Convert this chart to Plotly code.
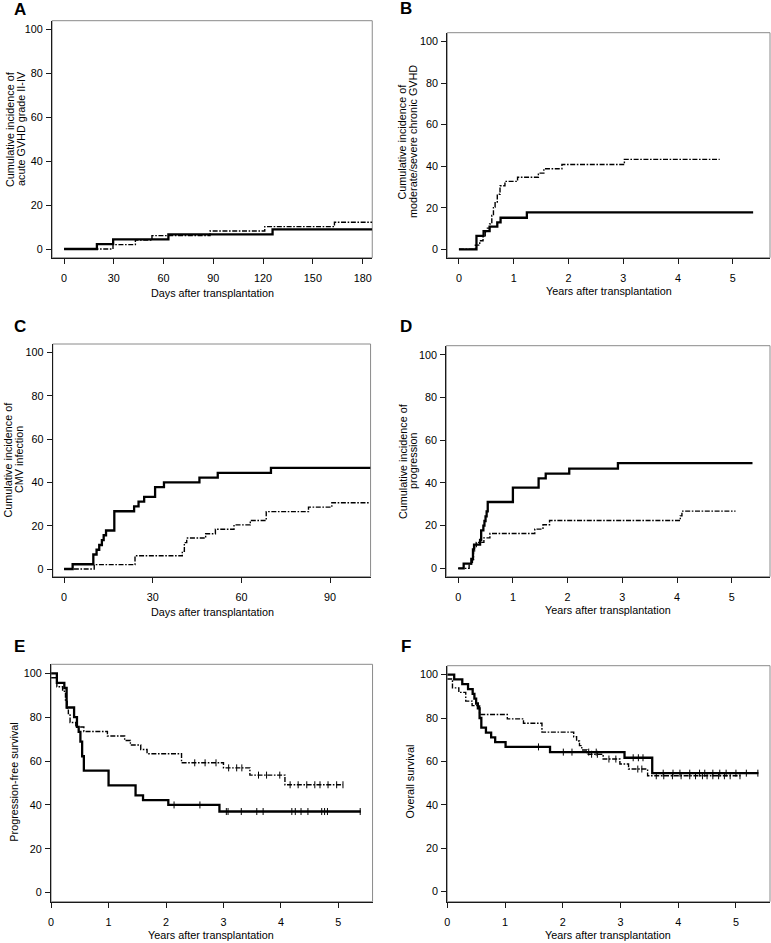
import plotly.graph_objects as go

W, H = 771, 943
FONT = "Liberation Sans, Arial, Helvetica, sans-serif"

# ---------------- DATA ----------------
# Panel A: acute GVHD II-IV (days)
A_solid_t = [0, 19.8, 29.6, 62.9, 125.7]
A_solid_v = [0, 2.2, 4.4, 6.7, 8.9]
A_solid_end = 185.8
A_dash_t = [0, 29.5, 43, 53, 88, 121, 163]
A_dash_v = [0, 2.0, 4.1, 6.1, 8.2, 10.2, 12.2]
A_dash_end = 185.8

# Panel B: moderate/severe chronic GVHD (years)
B_solid_t = [0, 0.32, 0.45, 0.56, 0.70, 0.76, 1.24]
B_solid_v = [0, 6.5, 8.7, 10.9, 13.0, 15.2, 17.8]
B_solid_end = 5.37
B_dash_t = [0, 0.30, 0.38, 0.44, 0.48, 0.52, 0.56, 0.60, 0.63, 0.66, 0.70, 0.75, 0.84, 1.07, 1.45, 1.55, 1.88, 3.02]
B_dash_v = [0, 2.0, 4.1, 6.1, 8.2, 10.2, 12.2, 16.3, 20.4, 22.4, 26.5, 30.6, 32.7, 34.7, 36.7, 38.8, 40.8, 43.3]
B_dash_end = 4.76

# Panel C: CMV infection (days)
C_solid_t = [0, 2.9, 9.9, 11.0, 11.9, 12.8, 13.4, 14.2, 17.0, 23.7, 25.2, 27.1, 30.8, 33.8, 45.8, 52.0, 70.0]
C_solid_v = [0, 2.2, 6.7, 8.9, 11.1, 13.3, 15.6, 17.8, 26.7, 28.9, 31.1, 33.3, 37.8, 40.0, 42.2, 44.4, 46.7]
C_solid_end = 103.7
C_dash_t = [0, 10.2, 24.0, 40.0, 40.7, 41.5, 47.9, 51.2, 57.5, 63.0, 68.4, 82.7, 90.6]
C_dash_v = [0, 2.0, 6.1, 8.2, 12.2, 14.3, 16.3, 18.4, 20.4, 22.4, 26.5, 28.6, 30.6]
C_dash_end = 103.5

# Panel D: progression (years)
D_solid_t = [0, 0.10, 0.24, 0.27, 0.29, 0.40, 0.42, 0.46, 0.48, 0.50, 0.52, 0.54, 1.00, 1.47, 1.60, 2.03, 2.92]
D_solid_v = [0, 2.2, 4.4, 8.9, 11.1, 13.3, 17.8, 20.0, 22.2, 24.4, 26.7, 31.1, 37.8, 42.2, 44.4, 46.7, 49.3]
D_solid_end = 5.38
D_dash_t = [0, 0.20, 0.26, 0.28, 0.30, 0.33, 0.47, 0.58, 1.40, 1.55, 1.67, 4.06, 4.09]
D_dash_v = [0, 2.0, 4.1, 8.2, 10.2, 12.2, 14.3, 16.3, 18.4, 20.4, 22.4, 24.6, 26.8]
D_dash_end = 5.07

# Panel E: progression-free survival (years)
E_solid_t = [0, 0.10, 0.23, 0.27, 0.40, 0.45, 0.48, 0.51, 0.54, 0.57, 1.00, 1.47, 1.60, 2.04, 2.93]
E_solid_v = [100, 95.6, 93.3, 84.4, 80.0, 75.6, 73.3, 68.9, 62.2, 55.6, 48.9, 44.4, 42.2, 40.0, 37.0]
E_solid_end = 5.39
E_solid_cens = [2.14, 2.59, 3.05, 3.08, 3.31, 3.58, 3.69, 4.19, 4.25, 4.35, 4.47, 4.71, 4.76, 4.81, 5.38]
E_dash_t = [0, 0.10, 0.20, 0.25, 0.28, 0.30, 0.33, 0.43, 0.57, 0.98, 1.28, 1.38, 1.56, 1.67, 2.27, 3.00, 3.46, 4.07]
E_dash_v = [98.0, 93.9, 91.8, 87.8, 83.7, 81.6, 77.6, 75.5, 73.5, 71.4, 69.4, 67.3, 65.3, 63.3, 59.2, 56.9, 53.6, 49.2]
E_dash_end = 5.08
E_dash_cens = [2.5, 2.68, 2.87, 3.09, 3.23, 3.32, 3.61, 3.75, 3.98, 4.16, 4.30, 4.45, 4.59, 4.68, 4.82, 4.97, 5.08]

# Panel F: overall survival (years)
F_solid_t = [0, 0.12, 0.26, 0.36, 0.44, 0.47, 0.50, 0.53, 0.56, 0.59, 0.67, 0.76, 0.83, 1.01, 1.78, 3.07, 3.55]
F_solid_v = [100, 97.8, 95.6, 93.3, 91.1, 88.9, 86.7, 84.4, 80.0, 75.6, 73.3, 71.1, 68.9, 66.7, 64.3, 61.7, 54.6]
F_solid_end = 5.39
F_solid_cens = [1.58, 2.01, 2.16, 2.45, 2.58, 3.22, 3.31, 3.39, 3.74, 3.91, 4.03, 4.20, 4.37, 4.46, 4.60, 4.72, 4.83, 5.00, 5.18, 5.38]
F_dash_t = [0, 0.09, 0.20, 0.32, 0.43, 0.56, 1.04, 1.32, 1.64, 2.19, 2.24, 2.29, 2.33, 2.42, 2.70, 2.99, 3.14, 3.47]
F_dash_v = [98.0, 93.9, 91.8, 87.8, 85.7, 81.6, 79.6, 77.6, 73.5, 71.4, 69.4, 67.3, 65.3, 63.3, 61.1, 58.8, 56.5, 53.4]
F_dash_end = 5.08
F_dash_cens = [2.5, 2.6, 2.8, 2.92, 3.3, 3.37, 3.62, 3.75, 3.9, 4.05, 4.2, 4.3, 4.42, 4.5, 4.6, 4.7, 4.8, 4.9, 5.07]

days_ticks_A = [0, 30, 60, 90, 120, 150, 180]
days_ticks_C = [0, 30, 60, 90]
year_ticks = [0, 1, 2, 3, 4, 5]
y_ticks = [0, 20, 40, 60, 80, 100]

# ---------------- LAYOUT (pixel boxes) ----------------
panels = {
    "A": dict(box=(49.3, 370.7, 20.7, 257.7), xr=[-7.2, 185.8], yr=[-3.96, 103.9], xt=days_ticks_A,
              xtitle="Days after transplantation", xtpos=(210, 292.7),
              ytitle=["Cumulative incidence of", "acute GVHD grade II-IV"], ytx=[6.5, 17.5], ytyc=128.5,
              letter=(17.5, 9.2)),
    "B": dict(box=(446, 770, 32.7, 257.7), xr=[-0.213, 5.678], yr=[-4.05, 104.3], xt=year_ticks,
              xtitle="Years after transplantation", xtpos=(608.5, 291),
              ytitle=["Cumulative incidence of", "moderate/severe chronic GVHD"], ytx=[401, 411.5], ytyc=141,
              letter=(405, 8.5)),
    "C": dict(box=(50, 369, 344, 576.7), xr=[-3.81, 103.7], yr=[-3.56, 104.0], xt=days_ticks_C,
              xtitle="Days after transplantation", xtpos=(210, 611.7),
              ytitle=["Cumulative incidence of", "CMV infection"], ytx=[5.5, 16], ytyc=459,
              letter=(17, 326)),
    "D": dict(box=(445, 770, 345.7, 576.7), xr=[-0.218, 5.70], yr=[-3.9, 104.3], xt=year_ticks,
              xtitle="Years after transplantation", xtpos=(607.7, 610),
              ytitle=["Cumulative incidence of", "progression"], ytx=[401, 411], ytyc=460.5,
              letter=(405, 327)),
    "E": dict(box=(48.3, 371, 664.3, 901.7), xr=[0, 5.595], yr=[-4.1, 104.1], xt=year_ticks,
              xtitle="Years after transplantation", xtpos=(208.8, 935),
              ytitle=["Progression-free survival"], ytx=[11], ytyc=781.7,
              letter=(17, 646)),
    "F": dict(box=(446, 770, 665.7, 901.7), xr=[0, 5.59], yr=[-4.6, 104.1], xt=year_ticks,
              xtitle="Years after transplantation", xtpos=(607, 935),
              ytitle=["Overall survival"], ytx=[409], ytyc=781,
              letter=(405, 646)),
}

series = {
    "A": [(A_solid_t, A_solid_v, A_solid_end, None), (A_dash_t, A_dash_v, A_dash_end, None)],
    "B": [(B_solid_t, B_solid_v, B_solid_end, None), (B_dash_t, B_dash_v, B_dash_end, None)],
    "C": [(C_solid_t, C_solid_v, C_solid_end, None), (C_dash_t, C_dash_v, C_dash_end, None)],
    "D": [(D_solid_t, D_solid_v, D_solid_end, None), (D_dash_t, D_dash_v, D_dash_end, None)],
    "E": [(E_solid_t, E_solid_v, E_solid_end, E_solid_cens), (E_dash_t, E_dash_v, E_dash_end, E_dash_cens)],
    "F": [(F_solid_t, F_solid_v, F_solid_end, F_solid_cens), (F_dash_t, F_dash_v, F_dash_end, F_dash_cens)],
}


def step_at(t, v, x):
    val = v[0]
    for ti, vi in zip(t, v):
        if ti <= x:
            val = vi
    return val


fig = go.Figure()
annotations = []
shapes = []

for i, key in enumerate(["A", "B", "C", "D", "E", "F"]):
    p = panels[key]
    idx = "" if i == 0 else str(i + 1)
    xa, ya = "x" + idx, "y" + idx
    l, r, t_, b = p["box"]
    xdom = [l / W, r / W]
    ydom = [1 - b / H, 1 - t_ / H]
    common = dict(showgrid=False, zeroline=False, showline=True, linecolor="#1a1a1a", linewidth=1.2,
                  ticks="outside", ticklen=5, tickwidth=1, tickcolor="#1a1a1a",
                  tickfont=dict(family=FONT, size=10.8, color="black"))
    fig.update_layout(**{
        "xaxis" + idx: dict(domain=xdom, range=p["xr"], tickmode="array", tickvals=p["xt"],
                            anchor=ya, ticklabelstandoff=5, **common),
        "yaxis" + idx: dict(domain=ydom, range=p["yr"], tickmode="array", tickvals=y_ticks,
                            anchor=xa, ticklabelstandoff=1, **common),
    })
    shapes.append(dict(type="rect", xref=xa + " domain", yref=ya + " domain", x0=0, x1=1, y0=0, y1=1,
                       line=dict(color="#8a8a8a", width=1), layer="below"))

    for j, (tt, vv, end, cens) in enumerate(series[key]):
        xs = list(tt) + [end]
        ys = list(vv) + [vv[-1]]
        if j == 0:
            line = dict(color="black", width=2.3, shape="hv")
        else:
            line = dict(color="black", width=1.4, shape="hv", dash="5px,1.6px,1.6px,1.6px")
        fig.add_trace(go.Scatter(x=xs, y=ys, mode="lines", line=line, xaxis=xa, yaxis=ya,
                                 showlegend=False, hoverinfo="skip"))
        if cens:
            fig.add_trace(go.Scatter(x=cens, y=[step_at(tt, vv, c) for c in cens], mode="markers",
                                     marker=dict(symbol="line-ns-open", size=5, color="black",
                                                 line=dict(color="black", width=1)),
                                     xaxis=xa, yaxis=ya, showlegend=False, hoverinfo="skip"))

    # panel letter
    lx, ly = p["letter"]
    annotations.append(dict(text="<b>%s</b>" % key, x=lx / W, y=1 - ly / H, xref="paper", yref="paper",
                            showarrow=False, xanchor="center", yanchor="middle",
                            font=dict(family=FONT, size=17, color="black")))
    # x title
    tx, ty = p["xtpos"]
    annotations.append(dict(text=p["xtitle"], x=tx / W, y=1 - ty / H, xref="paper", yref="paper",
                            showarrow=False, xanchor="center", yanchor="middle",
                            font=dict(family=FONT, size=10.8, color="black")))
    # y title lines
    for line_text, lxp in zip(p["ytitle"], p["ytx"]):
        annotations.append(dict(text=line_text, x=lxp / W, y=1 - p["ytyc"] / H, xref="paper", yref="paper",
                                showarrow=False, xanchor="center", yanchor="middle", textangle=-90,
                                font=dict(family=FONT, size=10.8, color="black")))

fig.update_layout(width=W, height=H, margin=dict(l=0, r=0, t=0, b=0), autosize=False,
                  paper_bgcolor="white", plot_bgcolor="white",
                  annotations=annotations, shapes=shapes, showlegend=False)

fig.write_html("out.html", config={"displayModeBar": False},
               post_script="document.body.style.margin='0px';")
